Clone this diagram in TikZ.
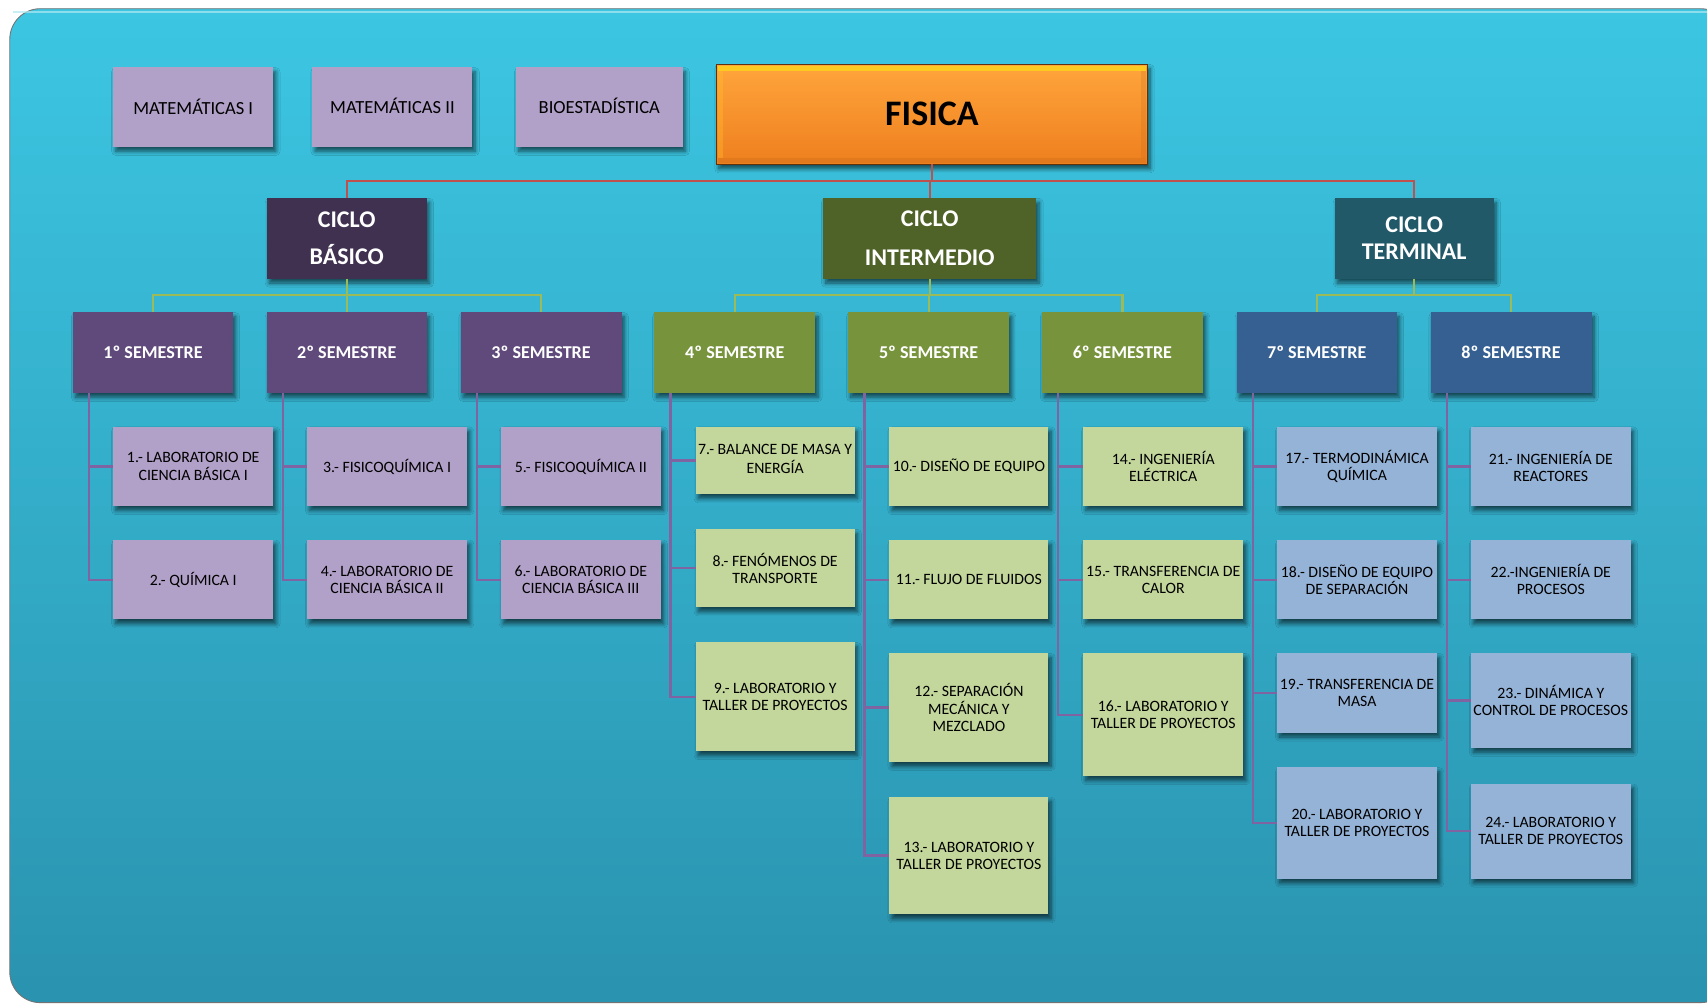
\documentclass[tikz,border=0pt]{standalone}
\usepackage{fontspec}
\setmainfont{Carlito}
\usetikzlibrary{shadows.blur}
\definecolor{lilac}{HTML}{B1A0C7}
\definecolor{lgreen}{HTML}{C3D69B}
\definecolor{lblue}{HTML}{95B3D7}
\definecolor{semP}{HTML}{604A7B}
\definecolor{semG}{HTML}{77933C}
\definecolor{semB}{HTML}{366092}
\definecolor{cicB}{HTML}{403151}
\definecolor{cicI}{HTML}{4F6228}
\definecolor{cicT}{HTML}{215968}
\definecolor{redln}{HTML}{C0504D}
\definecolor{ygln}{HTML}{9BBB59}
\definecolor{purln}{HTML}{8064A2}
\definecolor{bgtop}{HTML}{3CC6E2}
\definecolor{bgmid}{HTML}{3AB6DB}
\definecolor{bgbot}{HTML}{2A93AF}
\definecolor{ortop}{HTML}{FFA53C}
\definecolor{ormid}{HTML}{FF9630}
\definecolor{orbot}{HTML}{EE7F1E}
\newcommand\bx[7]{\node[#2, minimum width={(#5-#3)*0.5pt}, minimum height={(#6-#4)*0.5pt}] (#1) at ({(#3+#5)/2},{(#4+#6)/2}) {#7};}
\tikzset{
  box/.style={inner sep=0pt, outer sep=0pt, align=center,
    blur shadow={shadow xshift=1.2pt, shadow yshift=-2pt, shadow opacity=60, shadow blur steps=6}},
  topbox/.style={box, fill=lilac, font=\fontsize{8.5}{10}\selectfont},
  chP/.style={box, fill=lilac, font=\fontsize{7.25}{8}\selectfont},
  chG/.style={box, fill=lgreen, font=\fontsize{7.25}{8}\selectfont},
  chB/.style={box, fill=lblue, font=\fontsize{7.25}{8}\selectfont},
  sem/.style={box, text=white, font=\bfseries\fontsize{8.3}{10}\selectfont},
  cic/.style={box, text=white},
  redc/.style={draw=redln, line width=1pt},
  ygc/.style={draw=ygln, line width=1pt},
  purc/.style={draw=purln, line width=1.1pt},
}
\begin{document}
\begin{tikzpicture}[x=0.5pt, y=-0.5pt]
\useasboundingbox (0,0) rectangle (1568,924);
\fill[white] (0,0) rectangle (1568,924);
% background panel
\shade[rounded corners=14pt, top color=bgtop, middle color=bgmid, bottom color=bgbot] (9,8) rectangle (1590,921);
\draw[rounded corners=14pt, draw=black!55, line width=0.4pt] (9,8) rectangle (1590,921);
\draw[rounded corners=12pt, draw=white!60!bgtop, line width=0.8pt, opacity=0.7] (12,11) -- (1590,11);

% top boxes
\bx{m1}{topbox}{104}{62}{251}{135}{MATEMÁTICAS I}
\bx{m2}{topbox}{287}{62}{434}{135}{\raisebox{1pt}{MATEMÁTICAS II}}
\bx{bio}{topbox}{474}{62}{627}{135}{\raisebox{1pt}{BIOESTADÍSTICA}}

% FISICA
\bx{fis}{box, shade, top color=ortop, middle color=ormid, bottom color=orbot, draw=black!60!orbot, line width=0.5pt, font=\bfseries\fontsize{16.5}{20}\selectfont}{658}{59}{1054}{151}{FISICA}
\fill[yellow!60!ortop, opacity=0.8] ([xshift=0.6pt,yshift=-0.6pt]fis.north west) rectangle ([xshift=-0.6pt,yshift=-3pt]fis.north east);
\fill[orbot!80!black, opacity=0.25] ([xshift=0.6pt,yshift=0.6pt]fis.south west) rectangle ([xshift=-0.6pt,yshift=3pt]fis.south east);
\fill[ortop!70!yellow, opacity=0.35] ([xshift=0.6pt,yshift=-3pt]fis.north west) rectangle ([xshift=3pt,yshift=3pt]fis.south west);
\fill[orbot!80!black, opacity=0.2] ([xshift=-3pt,yshift=-3pt]fis.north east) rectangle ([xshift=-0.6pt,yshift=3pt]fis.south east);

% ciclos
\bx{cb}{cic, fill=cicB, font=\bfseries\fontsize{11}{17}\selectfont}{245}{182}{392}{256}{CICLO\\BÁSICO}
\bx{ci}{cic, fill=cicI, font=\bfseries\fontsize{11}{18}\selectfont}{756}{182}{952}{256}{CICLO\\INTERMEDIO}
\bx{ct}{cic, fill=cicT, font=\bfseries\fontsize{11}{12.5}\selectfont}{1226}{182}{1372}{256}{CICLO\\TERMINAL}

% semesters
\bx{s1}{sem, fill=semP}{67}{287}{214}{361}{1º SEMESTRE}
\bx{s2}{sem, fill=semP}{245}{287}{392}{361}{2º SEMESTRE}
\bx{s3}{sem, fill=semP}{423}{287}{571}{361}{3º SEMESTRE}
\bx{s4}{sem, fill=semG}{601}{287}{749}{361}{4º SEMESTRE}
\bx{s5}{sem, fill=semG}{779}{287}{927}{361}{5º SEMESTRE}
\bx{s6}{sem, fill=semG}{957}{287}{1105}{361}{6º SEMESTRE}
\bx{s7}{sem, fill=semB}{1136}{287}{1283}{361}{7º SEMESTRE}
\bx{s8}{sem, fill=semB}{1314}{287}{1462}{361}{8º SEMESTRE}

% children
\bx{c1}{chP}{104}{392}{251}{465}{1.- LABORATORIO DE\\CIENCIA BÁSICA I}
\bx{c2}{chP}{104}{496}{251}{569}{2.- QUÍMICA I}
\bx{c3}{chP}{282}{392}{429}{465}{3.- FISICOQUÍMICA I}
\bx{c4}{chP}{282}{496}{429}{569}{4.- LABORATORIO DE\\CIENCIA BÁSICA II}
\bx{c5}{chP}{460}{392}{607}{465}{5.- FISICOQUÍMICA II}
\bx{c6}{chP}{460}{496}{607}{569}{6.- LABORATORIO DE\\CIENCIA BÁSICA III}

\bx{c7}{chG}{639}{392}{785}{454}{\raisebox{1.5pt}{\begin{tabular}{@{}c@{}}7.- BALANCE DE MASA Y\\ENERGÍA\end{tabular}}}
\bx{c8}{chG}{639}{486}{785}{558}{8.- FENÓMENOS DE\\TRANSPORTE}
\bx{c9}{chG}{639}{590}{785}{690}{9.- LABORATORIO Y\\TALLER DE PROYECTOS}
\bx{c10}{chG}{817}{392}{963}{465}{10.- DISEÑO DE EQUIPO}
\bx{c11}{chG}{817}{496}{963}{569}{11.- FLUJO DE FLUIDOS}
\bx{c12}{chG}{817}{600}{963}{700}{12.- SEPARACIÓN\\MECÁNICA Y\\MEZCLADO}
\bx{c13}{chG}{817}{732}{963}{840}{13.- LABORATORIO Y\\TALLER DE PROYECTOS}
\bx{c14}{chG}{995}{392}{1142}{465}{14.- INGENIERÍA\\ELÉCTRICA}
\bx{c15}{chG}{995}{496}{1142}{569}{15.- TRANSFERENCIA DE\\CALOR}
\bx{c16}{chG}{995}{600}{1142}{713}{16.- LABORATORIO Y\\TALLER DE PROYECTOS}

\bx{c17}{chB}{1173}{392}{1320}{465}{17.- TERMODINÁMICA\\QUÍMICA}
\bx{c18}{chB}{1173}{496}{1320}{569}{18.- DISEÑO DE EQUIPO\\DE SEPARACIÓN}
\bx{c19}{chB}{1173}{600}{1320}{673}{19.- TRANSFERENCIA DE\\MASA}
\bx{c20}{chB}{1173}{705}{1320}{807}{20.- LABORATORIO Y\\TALLER DE PROYECTOS}
\bx{c21}{chB}{1351}{392}{1498}{465}{21.- INGENIERÍA DE\\REACTORES}
\bx{c22}{chB}{1351}{496}{1498}{569}{22.-INGENIERÍA DE\\PROCESOS}
\bx{c23}{chB}{1351}{600}{1498}{687}{23.- DINÁMICA Y\\CONTROL DE PROCESOS}
\bx{c24}{chB}{1351}{720}{1498}{807}{24.- LABORATORIO Y\\TALLER DE PROYECTOS}

% red connectors
\coordinate (rb) at (855,166);
\draw[redc] (fis.south) -- (fis.south |- rb) -| (cb.north);
\draw[redc] (fis.south |- rb) -| (ci.north);
\draw[redc] (fis.south |- rb) -| (ct.north);

% yellow-green connectors
\coordinate (gb) at (0,271);
\draw[ygc] (cb.south) -- (cb.south |- gb) -| (s1.north);
\draw[ygc] (cb.south |- gb) -| (s2.north);
\draw[ygc] (cb.south |- gb) -| (s3.north);
\draw[ygc] (ci.south) -- (ci.south |- gb) -| (s4.north);
\draw[ygc] (ci.south |- gb) -| (s5.north);
\draw[ygc] (ci.south |- gb) -| (s6.north);
\draw[ygc] (ct.south) -- (ct.south |- gb) -| (s7.north);
\draw[ygc] (ct.south |- gb) -| (s8.north);

% purple connectors
\foreach \s/\cs in {s1/{c1,c2}, s2/{c3,c4}, s3/{c5,c6}, s4/{c7,c8,c9}, s5/{c10,c11,c12,c13}, s6/{c14,c15,c16}, s7/{c17,c18,c19,c20}, s8/{c21,c22,c23,c24}}{
  \foreach \c in \cs {
    \draw[purc] ([xshift=7.5pt]\s.south west) |- (\c.west);
  }
}
\end{tikzpicture}
\end{document}
